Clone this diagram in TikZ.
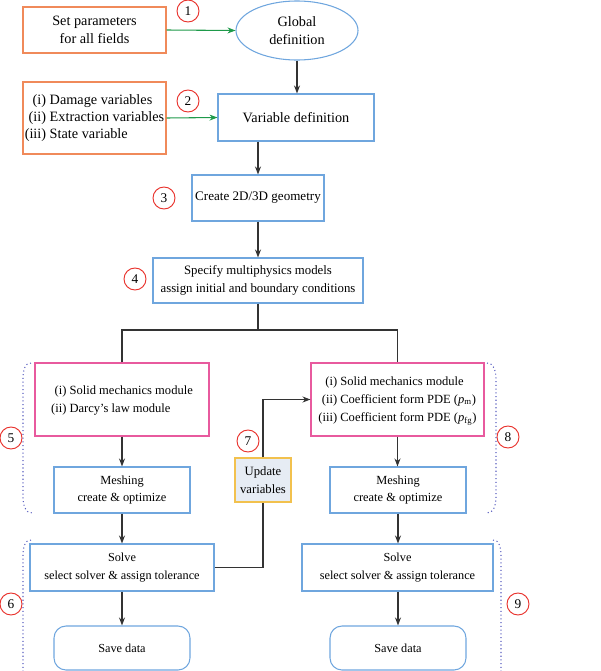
\documentclass[tikz,border=0pt]{standalone}
\usepackage{fontspec}
\setmainfont{Liberation Serif}
\usetikzlibrary{shapes.geometric,arrows.meta}
\definecolor{orangeb}{HTML}{F08A5A}
\definecolor{blueb}{HTML}{6FA6DE}
\definecolor{pinkb}{HTML}{E85A9E}
\definecolor{greenl}{HTML}{1E9A4A}
\definecolor{redc}{HTML}{E8302A}
\definecolor{dotc}{HTML}{5A5FC0}
\definecolor{updfill}{HTML}{E6ECF4}
\definecolor{updb}{HTML}{F2C14E}
\definecolor{linec}{HTML}{333333}
\tikzset{
  fs/.style={font=\fontsize{#1}{13}\selectfont},
  base/.style={draw, line width=0.8pt, inner sep=0pt, align=center, fs=10.7},
  obox/.style={base, draw=orangeb, minimum width=107.25pt},
  bbox/.style={base, draw=blueb},
  pbox/.style={base, draw=pinkb, minimum width=130pt, minimum height=54.75pt, font=\fontsize{9.4}{13.5}\selectfont},
  sbox/.style={bbox, rounded corners=9pt, minimum width=102pt, minimum height=33pt, fs=9.2},
  ubox/.style={base, draw=updb, fill=updfill, minimum width=42pt, minimum height=33pt, fs=9.5},
  num/.style={circle, draw=redc, line width=0.7pt, inner sep=0pt, minimum size=16.5pt, font=\fontsize{10}{11}\selectfont},
  arr/.style={draw=linec, line width=0.8pt, -{Stealth[length=6pt,width=4.5pt]}},
  ln/.style={draw=linec, line width=0.8pt},
  garr/.style={draw=greenl, line width=0.8pt, -{Stealth[length=6pt,width=4.5pt]}},
  brc/.style={draw=dotc, line width=0.8pt, dotted}
}
\begin{document}
\begin{tikzpicture}[x=0.75pt,y=-0.75pt]
\useasboundingbox (0,0) rectangle (600,671);
% top part
\node[obox, minimum height=34.5pt] (p1) at (94.5,30) {Set parameters\\for all fields};
\node[base, draw=blueb, ellipse, minimum width=91.5pt, minimum height=44.25pt] (glob) at (297,30.5) {Global\\definition};
\node[num] (c1) at (188,11) {1};
\node[obox, minimum height=54pt] (p2) at (94.5,118) {\begin{tabular}{@{}r@{ }l@{}}(i)&Damage variables\\(ii)&Extraction variables\\(iii)&State variable\end{tabular}};
\node[num] (c2) at (188,101) {2};
\node[bbox, minimum width=117pt, minimum height=35.25pt] (vdef) at (296,117.5) {Variable definition};
\node[bbox, fs=9.8, minimum width=99pt, minimum height=34.5pt] (geom) at (258,198) {Create 2D/3D geometry};
\node[num] (c3) at (164,198) {3};
\node[bbox, fs=9.6, minimum width=157.5pt, minimum height=33.75pt] (spec) at (258,280.5) {Specify multiphysics models\\assign initial and boundary conditions};
\node[num] (c4) at (135,279) {4};
\coordinate (j) at (258,330);
% left branch
\node[pbox, minimum width=130.5pt] (pinkL) at (122,399.5) {\begin{tabular}{@{}r@{ }l@{}}(i)&Solid mechanics module\\(ii)&Darcy's law module\end{tabular}};
\node[bbox, fs=9.3, minimum width=102pt, minimum height=34.5pt] (meshL) at (122,490) {Meshing\\create \& optimize};
\node[bbox, fs=9.2, minimum width=138pt, minimum height=35.25pt] (solveL) at (122,567.5) {Solve\\select solver \& assign tolerance};
\node[sbox] (saveL) at (122,648) {Save data};
% right branch
\node[pbox, minimum width=129.75pt] (pinkR) at (397.5,399.5) {\begin{tabular}{@{}r@{ }l@{}}(i)&Solid mechanics module\\(ii)&Coefficient form PDE (\textit{p}\textsubscript{m})\\(iii)&Coefficient form PDE (\textit{p}\textsubscript{fg})\end{tabular}};
\node[bbox, fs=9.3, minimum width=102pt, minimum height=34.5pt] (meshR) at (398,490) {Meshing\\create \& optimize};
\node[bbox, fs=9.2, minimum width=143.25pt, minimum height=35.25pt] (solveR) at (397.5,567.5) {Solve\\select solver \& assign tolerance};
\node[sbox] (saveR) at (398,648) {Save data};
% update
\node[ubox] (upd) at (263,480) {Update\\variables};
\node[num] (c5) at (11,438) {5};
\node[num] (c6) at (11,604) {6};
\node[num] (c7) at (248,441) {7};
\node[num] (c8) at (508,437) {8};
\node[num] (c9) at (518,604) {9};
% connectors
\draw[garr] (p1.east) -- (glob.west);
\draw[garr] (p2.east) -- (vdef.west);
\draw[arr] (glob.south) -- (vdef.north -| glob.south);
\draw[arr] (vdef.south -| geom.north) -- (geom.north);
\draw[arr] (geom.south) -- (spec.north);
\draw[ln] (spec.south) -- (j);
\draw[ln] (pinkL.north) |- (j) -| (pinkR.north);
\draw[arr] (pinkL.south) -- (meshL.north);
\draw[arr] (meshL.south) -- (solveL.north);
\draw[arr] (solveL.south) -- (saveL.north);
\draw[arr] (pinkR.south) -- (pinkR.south |- meshR.north);
\draw[arr] (meshR.south) -- (meshR.south |- solveR.north);
\draw[arr] (solveR.south -| saveR.north) -- (saveR.north);
\draw[ln] (solveL.east) -| (upd.south);
\draw[arr] (upd.north) |- (pinkR.west);
% dotted braces
\draw[brc] (31,363) to[out=180,in=90] (23,378) -- (23,498) to[out=-90,in=180] (32,513);
\draw[brc] (487,363) to[out=0,in=90] (496,378) -- (496,498) to[out=-90,in=0] (487,513);
\draw[brc] (31,540) to[out=180,in=90] (23,555) -- (23,671);
\draw[brc] (493,540) to[out=0,in=90] (501,555) -- (501,671);
\end{tikzpicture}
\end{document}
